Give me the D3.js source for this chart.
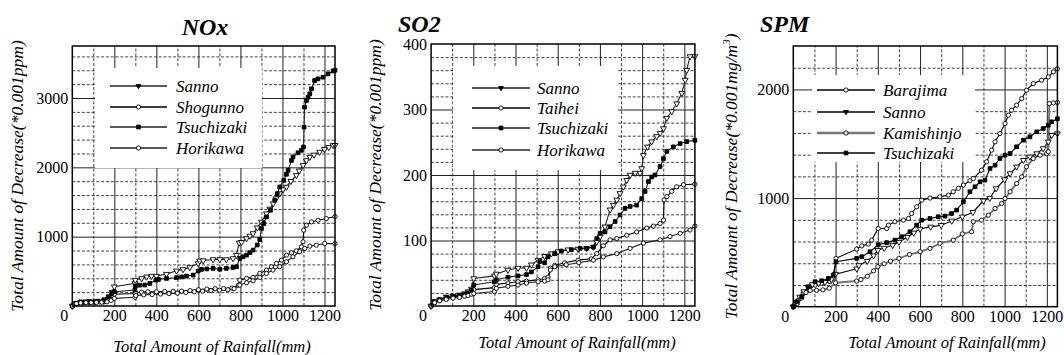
<!DOCTYPE html>
<html>
<head>
<meta charset="utf-8">
<script src="https://cdn.jsdelivr.net/npm/d3@7"></script>
</head>
<body style="margin:0">
<svg id="s" width="1064" height="355"></svg>
<script>
// ---- tick labels ----
const rainTicks = [0, 200, 400, 600, 800, 1000, 1200];
const noxTicks = [1000, 2000, 3000];
const so2Ticks = [100, 200, 300, 400];
const spmTicks = [1000, 2000];

// ---- station names ----
const noxNames = ["Sanno", "Shogunno", "Tsuchizaki", "Horikawa"];
const so2Names = ["Sanno", "Taihei", "Tsuchizaki", "Horikawa"];
const spmNames = ["Barajima", "Sanno", "Kamishinjo", "Tsuchizaki"];

// ---- NOx: [cumulative rainfall (mm), cumulative decrease (*0.001ppm)] ----
const noxSanno = [[0,0],[20,40],[50,55],[80,60],[110,62],[150,70],[170,100],[190,200],[200,278],[298,326],[300,374],[330,398],[354,422],[377,432],[400,432],[448,460],[496,508],[527,528],[559,556],[599,614],[606,652],[623,655],[670,671],[702,672],[733,671],[765,686],[781,734],[794,911],[805,920],[829,974],[845,1010],[860,1046],[880,1130],[900,1213],[924,1333],[940,1400],[956,1477],[970,1550],[987,1621],[1003,1680],[1019,1717],[1040,1800],[1066,1885],[1080,1950],[1098,2029],[1114,2100],[1130,2149],[1150,2180],[1177,2221],[1200,2260],[1220,2290],[1241,2317],[1250,2320]];
const noxShogunno = [[0,0],[12,25],[30,45],[55,50],[80,52],[105,55],[130,58],[160,65],[180,95],[195,130],[200,170],[298,180],[302,190],[330,200],[360,205],[400,205],[440,210],[480,212],[520,215],[560,222],[600,235],[640,245],[680,250],[720,252],[760,258],[790,300],[797,374],[829,398],[860,412],[892,470],[924,518],[948,566],[971,614],[995,662],[1019,734],[1043,767],[1066,796],[1090,854],[1098,926],[1101,1094],[1114,1165],[1138,1213],[1169,1237],[1209,1261],[1250,1290]];
const noxTsuchizaki = [[0,0],[20,40],[40,60],[60,60],[80,65],[100,60],[120,70],[150,90],[171,134],[187,182],[200,206],[298,230],[300,288],[320,300],[345,302],[369,326],[398,374],[410,384],[448,398],[496,408],[520,420],[543,432],[575,446],[599,504],[615,528],[640,535],[670,542],[702,530],[733,542],[765,556],[781,566],[797,686],[813,710],[829,734],[845,770],[860,806],[880,880],[892,959],[900,1117],[911,1189],[924,1285],[943,1381],[963,1525],[975,1620],[987,1717],[1006,1813],[1019,1900],[1027,1957],[1043,2100],[1050,2150],[1074,2210],[1090,2245],[1100,2293],[1103,2580],[1105,2868],[1114,2964],[1122,3012],[1130,3060],[1138,3132],[1153,3252],[1169,3276],[1193,3300],[1217,3348],[1241,3390],[1250,3400]];
const noxHorikawa = [[0,0],[20,35],[40,45],[65,48],[90,50],[115,52],[140,55],[165,60],[185,80],[200,110],[298,125],[302,150],[340,160],[380,165],[420,172],[460,178],[500,185],[540,195],[580,205],[620,215],[660,222],[700,228],[740,235],[770,250],[797,302],[829,336],[860,364],[892,412],[924,470],[955,518],[987,566],[1019,638],[1050,710],[1082,782],[1106,830],[1130,863],[1161,878],[1201,902],[1250,900]];

// ---- SO2: [cumulative rainfall (mm), cumulative decrease (*0.001ppm)] ----
const so2Sanno = [[0,0],[17,7],[41,10],[72,14],[104,15],[135,17],[159,19],[175,22],[191,26],[202,42],[300,46],[309,49],[364,55],[412,58],[452,58],[475,63],[507,70],[538,76],[570,80],[601,83],[649,86],[696,87],[737,88],[769,90],[785,98],[801,106],[824,121],[848,147],[864,154],[880,162],[895,172],[911,182],[927,192],[943,200],[967,203],[990,203],[998,210],[1006,230],[1025,243],[1045,251],[1069,259],[1085,264],[1101,271],[1117,287],[1140,297],[1164,309],[1188,325],[1204,345],[1211,360],[1227,381],[1250,381]];
const so2Taihei = [[0,0],[17,6],[41,9],[72,12],[104,14],[135,15],[159,17],[175,19],[191,21],[202,25],[300,28],[309,33],[364,35],[412,37],[452,38],[507,40],[538,42],[554,44],[565,58],[586,62],[633,66],[696,70],[759,72],[785,80],[816,92],[848,101],[880,103],[927,108],[974,113],[1022,119],[1053,122],[1085,126],[1101,131],[1104,162],[1117,167],[1140,175],[1164,182],[1196,185],[1250,186]];
const so2Tsuchizaki = [[0,0],[17,6],[41,9],[72,13],[104,15],[135,16],[159,18],[175,20],[191,24],[202,32],[300,37],[309,40],[364,44],[412,46],[452,48],[475,52],[507,60],[515,68],[538,66],[554,75],[586,80],[617,84],[665,86],[706,88],[737,88],[769,90],[785,103],[801,111],[824,113],[848,121],[872,129],[895,139],[919,149],[943,152],[974,154],[998,164],[1014,175],[1030,190],[1045,197],[1061,200],[1085,213],[1101,225],[1117,236],[1148,243],[1180,248],[1211,251],[1250,253]];
const so2Horikawa = [[0,0],[17,5],[41,8],[72,10],[104,12],[135,13],[159,15],[175,16],[191,18],[202,19],[300,22],[309,27],[364,30],[412,32],[452,35],[507,37],[538,38],[554,40],[565,55],[586,60],[640,63],[700,66],[769,70],[816,75],[880,80],[943,88],[1006,96],[1085,101],[1132,106],[1180,111],[1227,116],[1250,122]];

// ---- SPM: [cumulative rainfall (mm), cumulative decrease (*0.001mg/m3)] ----
const spmBarajima = [[0,0],[8,25],[24,61],[47,123],[71,153],[103,199],[134,215],[174,230],[189,261],[202,445],[300,530],[324,560],[355,576],[371,613],[402,720],[442,720],[450,751],[481,782],[521,797],[545,812],[560,858],[584,920],[608,981],[647,1000],[694,1012],[734,1027],[757,1058],[781,1090],[805,1120],[836,1160],[852,1180],[891,1257],[915,1334],[939,1441],[955,1518],[978,1594],[1002,1686],[1018,1763],[1033,1809],[1057,1855],[1081,1916],[1104,1993],[1136,2054],[1175,2085],[1207,2115],[1231,2162],[1250,2190]];
const spmSanno = [[0,0],[15,40],[30,90],[50,140],[70,180],[90,205],[120,215],[150,225],[180,250],[200,300],[300,350],[310,380],[350,420],[380,470],[400,520],[430,540],[470,565],[500,595],[540,640],[570,680],[600,715],[650,735],[700,750],[750,790],[800,828],[850,870],[900,975],[930,1000],[960,1088],[1000,1170],[1026,1226],[1057,1288],[1089,1349],[1120,1380],[1152,1410],[1183,1456],[1207,1518],[1223,1579],[1250,1594]];
const spmKamishinjo = [[0,0],[20,30],[40,80],[60,130],[80,150],[110,150],[140,155],[170,170],[200,220],[300,236],[320,250],[350,280],[380,330],[400,368],[430,395],[460,420],[500,445],[550,480],[600,506],[647,537],[694,583],[757,613],[800,670],[844,690],[852,782],[891,797],[923,843],[955,904],[986,950],[1002,996],[1026,1058],[1057,1134],[1081,1196],[1104,1288],[1136,1364],[1168,1395],[1199,1410],[1207,1426],[1212,1870],[1231,1876],[1250,1880]];
const spmTsuchizaki = [[0,0],[16,46],[40,92],[71,184],[103,230],[134,239],[166,261],[189,291],[202,414],[300,445],[324,460],[363,506],[402,570],[442,590],[481,613],[513,644],[552,690],[584,751],[608,797],[647,812],[686,828],[718,834],[749,858],[773,889],[805,966],[836,1058],[860,1104],[884,1150],[907,1165],[931,1272],[955,1303],[978,1364],[1002,1395],[1026,1410],[1057,1472],[1089,1533],[1120,1564],[1152,1610],[1183,1640],[1207,1671],[1223,1702],[1250,1730]];

const serif = "\"Liberation Serif\"";

// apply the serif face as an inline style so nothing else overrides it
function serifText(sel, size, style, weight) {
  sel.attr("font-family", serif)
    .style("font-family", serif, "important")
    .style("font-size", size + "px")
    .style("font-style", style || "normal")
    .style("font-weight", weight || "normal")
    .attr("fill", "#000");
  return sel;
}

// ---- marker shapes ----
const markerDefs = {
  tri:  { type: d3.symbolTriangle, size: 15, fill: "#fff", rotate: 180 },
  dot:  { type: d3.symbolTriangle, size: 10, fill: "#000", rotate: 180 },
  circ: { type: d3.symbolCircle,   size: 14, fill: "#fff", rotate: 0 },
  sq:   { type: d3.symbolSquare,   size: 14, fill: "#000", rotate: 0 }
};

const svg = d3.select("#s");

const panels = [
  {
    title: "NOx", titleX: 205, titleY: 35, titleAnchor: "middle",
    left: 72.3, right: 335, top: 46, bottom: 306, yMax: 3750, yStep: 200, yTicks: noxTicks,
    yLabel: "Total Amount of Decrease(*0.001ppm)", yLabelX: 23,
    xLabelX: 212, xLabelY: 352,
    legend: { x: 95, y: 68, w: 167, h: 100, x1: 110, x2: 167, tx: 176, rows: [86, 107, 127, 148] },
    names: noxNames,
    series: [noxSanno, noxShogunno, noxTsuchizaki, noxHorikawa],
    marks: ["tri", "circ", "sq", "circ"], legendMarks: ["dot", "circ", "sq", "circ"],
    strokes: ["#222", "#000", "#222", "#222"], widths: [1.1, 1.1, 1.1, 1.1]
  },
  {
    title: "SO2", titleX: 398, titleY: 32, titleAnchor: "start",
    left: 431.1, right: 694.9, top: 44, bottom: 306, yMax: 400, yStep: 20, yTicks: so2Ticks,
    yLabel: "Total Amount of Decrease(*0.001ppm)", yLabelX: 381,
    xLabelX: 577, xLabelY: 348,
    legend: { x: 453, y: 66, w: 165, h: 104, x1: 472, x2: 530, tx: 537, rows: [88, 108, 128, 150] },
    names: so2Names,
    series: [so2Sanno, so2Taihei, so2Tsuchizaki, so2Horikawa],
    marks: ["tri", "circ", "sq", "circ"], legendMarks: ["dot", "circ", "sq", "circ"],
    strokes: ["#222", "#000", "#222", "#222"], widths: [1.1, 1.1, 1.1, 1.1]
  },
  {
    title: "SPM", titleX: 760, titleY: 32, titleAnchor: "start",
    left: 793.3, right: 1057.4, top: 46, bottom: 306.7, yMax: 2400, yStep: 200, yTicks: spmTicks,
    yLabel: "Total Amount of Decrease(*0.001mg/m", yLabelSup: "3", yLabelEnd: ")", yLabelX: 737,
    xLabelX: 947, xLabelY: 348,
    legend: { x: 812, y: 75, w: 163, h: 87, x1: 817, x2: 875, tx: 883, rows: [90, 112, 133, 153] },
    names: spmNames,
    series: [spmBarajima, spmSanno, spmKamishinjo, spmTsuchizaki],
    marks: ["circ", "tri", "circ", "sq"], legendMarks: ["circ", "dot", "circ", "sq"],
    strokes: ["#000", "#000", "#777", "#000"], widths: [1.1, 1.1, 2, 1.1]
  }
];

function drawMarker(sel, key, cx, cy) {
  const m = markerDefs[key];
  sel.append("path")
    .attr("d", d3.symbol().type(m.type).size(m.size))
    .attr("transform", `translate(${cx},${cy}) rotate(${m.rotate})`)
    .attr("fill", m.fill)
    .attr("stroke", "#000")
    .attr("stroke-width", 0.9);
}

panels.forEach(p => {
  const x = d3.scaleLinear().domain([0, 1250]).range([p.left, p.right]);
  const y = d3.scaleLinear().domain([0, p.yMax]).range([p.bottom, p.top]);
  const h = p.bottom - p.top, w = p.right - p.left;
  const g = svg.append("g");

  // grid: dashed at minor steps, solid at labelled steps
  const xMinor = d3.range(100, 1250, 100);
  const yMinor = d3.range(p.yStep, p.yMax, p.yStep);
  const gridStyle = (sel, dashed) => {
    sel.select(".domain").remove();
    sel.selectAll("line")
      .attr("stroke", dashed ? "#111" : "#222")
      .attr("stroke-width", dashed ? 0.8 : 1)
      .attr("stroke-dasharray", dashed ? "3,1.8" : null);
  };
  g.append("g").attr("transform", `translate(0,${p.bottom})`)
    .call(d3.axisBottom(x).tickValues(xMinor.filter(v => v % 200 !== 0)).tickSize(-h).tickFormat(""))
    .call(s => gridStyle(s, true));
  g.append("g").attr("transform", `translate(0,${p.bottom})`)
    .call(d3.axisBottom(x).tickValues(xMinor.filter(v => v % 200 === 0)).tickSize(-h).tickFormat(""))
    .call(s => gridStyle(s, false));
  g.append("g").attr("transform", `translate(${p.left},0)`)
    .call(d3.axisLeft(y).tickValues(yMinor.filter(v => !p.yTicks.includes(v))).tickSize(-w).tickFormat(""))
    .call(s => gridStyle(s, true));
  g.append("g").attr("transform", `translate(${p.left},0)`)
    .call(d3.axisLeft(y).tickValues(p.yTicks.filter(v => v < p.yMax)).tickSize(-w).tickFormat(""))
    .call(s => gridStyle(s, false));

  // legend background hides the grid behind it
  g.append("rect")
    .attr("x", p.legend.x).attr("y", p.legend.y)
    .attr("width", p.legend.w).attr("height", p.legend.h)
    .attr("fill", "#fff");

  // series
  const line = d3.line().x(d => x(d[0])).y(d => y(d[1]));
  p.series.forEach((data, i) => {
    g.append("path")
      .datum(data)
      .attr("d", line)
      .attr("fill", "none")
      .attr("stroke", p.strokes[i])
      .attr("stroke-width", p.widths[i]);
  });
  p.series.forEach((data, i) => {
    const mg = g.append("g");
    data.forEach(d => drawMarker(mg, p.marks[i], x(d[0]), y(d[1])));
  });

  // frame
  g.append("rect")
    .attr("x", p.left).attr("y", p.top)
    .attr("width", w).attr("height", h)
    .attr("fill", "none").attr("stroke", "#000").attr("stroke-width", 1.5);

  // legend entries
  p.names.forEach((name, i) => {
    const ry = p.legend.rows[i];
    g.append("line")
      .attr("x1", p.legend.x1).attr("x2", p.legend.x2)
      .attr("y1", ry).attr("y2", ry)
      .attr("stroke", p.strokes[i]).attr("stroke-width", p.widths[i] + 0.3);
    drawMarker(g, p.legendMarks[i], (p.legend.x1 + p.legend.x2) / 2, ry);
    g.append("text")
      .attr("x", p.legend.tx).attr("y", ry).attr("dy", "0.35em")
      .call(s => serifText(s, 17, "italic"))
      .text(name);
  });

  // tick labels
  const xAxis = g.append("g").attr("transform", `translate(0,${p.bottom})`)
    .call(d3.axisBottom(x).tickValues(rainTicks).tickSize(0).tickPadding(4).tickFormat(d3.format("d")));
  xAxis.attr("font-family", serif);
  xAxis.select(".domain").remove();
  xAxis.selectAll("text")
    .call(s => serifText(s, 16))
    .attr("x", d => d === 0 ? -8.5 : 0);

  const yAxis = g.append("g").attr("transform", `translate(${p.left},0)`)
    .call(d3.axisLeft(y).tickValues(p.yTicks).tickSize(0).tickPadding(4).tickFormat(d3.format("d")));
  yAxis.attr("font-family", serif);
  yAxis.select(".domain").remove();
  yAxis.selectAll("text").call(s => serifText(s, 16));

  // titles
  g.append("text")
    .attr("x", p.titleX).attr("y", p.titleY)
    .attr("text-anchor", p.titleAnchor)
    .call(s => serifText(s, 24, "italic", "bold"))
    .text(p.title);

  const yl = g.append("text")
    .attr("transform", `translate(${p.yLabelX},${(p.top + p.bottom) / 2}) rotate(-90)`)
    .attr("text-anchor", "middle")
    .call(s => serifText(s, 17.5, "italic"));
  yl.append("tspan").text(p.yLabel);
  if (p.yLabelSup) {
    yl.append("tspan").style("font-size", "11px").attr("dy", -7).text(p.yLabelSup);
    yl.append("tspan").attr("dy", 7).text(p.yLabelEnd);
  }

  g.append("text")
    .attr("x", p.xLabelX).attr("y", p.xLabelY)
    .attr("text-anchor", "middle")
    .call(s => serifText(s, 16.5, "italic"))
    .text("Total Amount of Rainfall(mm)");
});
</script>
</body>
</html>
